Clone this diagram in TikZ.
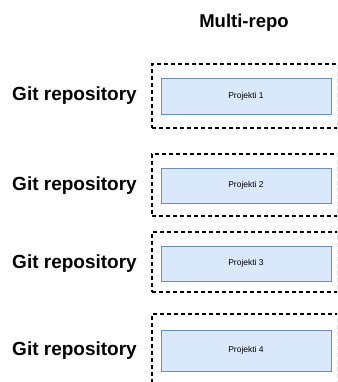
\documentclass[tikz,border=0pt]{standalone}
\usepackage{fontspec}
\setmainfont{Liberation Sans}

\definecolor{projfill}{HTML}{DAE8FC}
\definecolor{projline}{HTML}{6C8EBF}

\tikzset{
    repobox/.style={draw=black, line width=1.1pt, dash pattern=on 4pt off 3pt, minimum width=186pt, inner sep=0pt},
    projbox/.style={draw=projline, fill=projfill, line width=0.8pt, minimum width=170pt, inner sep=0pt, font=\fontsize{8.5}{10}\selectfont},
    repolabel/.style={inner sep=0pt, font=\fontsize{19}{22}\selectfont\bfseries},
}

\begin{document}
\begin{tikzpicture}[x=1pt,y=-1pt]
        \clip (0,0) rectangle (337,382);
        \node[repolabel, font=\fontsize{18.5}{22}\selectfont\bfseries] (title) at (244,23) {Multi-repo};
        \foreach \i/\ry/\rh/\py/\ph in {1/96/64/96/36, 2/185/62/185.5/35, 3/262/60/263.5/35, 4/351/74/350.5/41} {
                \node[repobox, minimum height=\rh pt] (repo\i) at (245,\ry) {};
                \node[projbox, minimum height=\ph pt] (proj\i) at (246,\py) {Projekti \i};
                \node[repolabel, anchor=east] (git\i) at (137,\py) {Git repository};
            }
    \end{tikzpicture}
\end{document}
